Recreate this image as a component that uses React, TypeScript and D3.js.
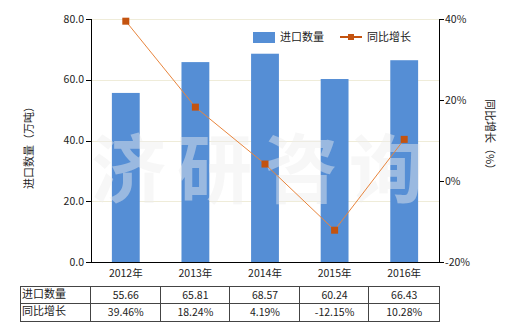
import React from "react";
import * as d3 from "d3";

const categories = ["2012年", "2013年", "2014年", "2015年", "2016年"];
const importQty = [55.66, 65.81, 68.57, 60.24, 66.43];
const yoyGrowth = [39.46, 18.24, 4.19, -12.15, 10.28];
const leftTicks = [0, 20, 40, 60, 80];
const rightTicks = [-20, 0, 20, 40];
const qtyLabels = ["55.66", "65.81", "68.57", "60.24", "66.43"];
const growthLabels = ["39.46%", "18.24%", "4.19%", "-12.15%", "10.28%"];
const seriesNames = ["进口数量", "同比增长"];
const leftTitle = "进口数量（万吨）";
const rightTitle = "同比增长（%）";
const watermark = "济研咨询";

const W = 520, H = 330;
const L = 91, R = 439, T = 19, B = 262;
const FONT = "'Noto Sans CJK SC', 'Liberation Sans', sans-serif";
const BLUE = "#558ed5";
const LINE = "#e8853d";
const MARK = "#c4530f";

export default function App() {
  const x = d3.scaleBand<string>().domain(categories).range([L, R]).paddingInner(0).paddingOuter(0);
  const yL = d3.scaleLinear().domain([0, 80]).range([B, T]);
  const yR = d3.scaleLinear().domain([-20, 40]).range([B, T]);
  const bw = x.bandwidth() * 0.4;
  const cx = (c: string) => (x(c) as number) + x.bandwidth() / 2;
  const line = d3.line<number>().x((_, i) => cx(categories[i])).y((d) => yR(d));
  const rowTop = 286, rowMid = 303.5, rowBot = 321;
  const tableLeft = 20.5;
  const colEdges = [tableLeft, ...categories.map((c) => x(c) as number), R];

  return (
    <svg width={W} height={H} style={{ position: "absolute", left: 0, top: 0, background: "#fff" }} fontFamily={FONT}>
      {/* gridlines */}
      {leftTicks.filter((t) => t > 0).map((t) => (
        <line key={t} x1={L} x2={R} y1={Math.round(yL(t)) + 0.5} y2={Math.round(yL(t)) + 0.5} stroke="#efecd9" strokeWidth={1} />
      ))}
      {/* bars */}
      {categories.map((c, i) => (
        <rect key={c} x={cx(c) - bw / 2} width={bw} y={yL(importQty[i])} height={B - yL(importQty[i])} fill={BLUE} />
      ))}
      {/* watermark */}
      <text x={91} y={197} fontSize={75} fontWeight="bold" fill="#eeeeee" opacity={0.45} letterSpacing={11}>{watermark}</text>
      {/* line */}
      <path d={line(yoyGrowth) || ""} fill="none" stroke={LINE} strokeWidth={1} />
      {yoyGrowth.map((v, i) => (
        <rect key={i} x={cx(categories[i]) - 3.5} y={yR(v) - 3.5} width={7} height={7} fill={MARK} />
      ))}
      {/* axes */}
      <line x1={L + 0.5} x2={L + 0.5} y1={T} y2={B} stroke="#000" />
      <line x1={R + 0.5} x2={R + 0.5} y1={T} y2={B} stroke="#000" />
      <line x1={L} x2={R + 1} y1={B + 0.5} y2={B + 0.5} stroke="#000" />
      {leftTicks.map((t) => (
        <g key={t}>
          <line x1={L - 5} x2={L} y1={Math.round(yL(t)) + 0.5} y2={Math.round(yL(t)) + 0.5} stroke="#000" />
          <text x={L - 7} y={yL(t)} dy="0.35em" textAnchor="end" fontSize={10.5} fill="#222">{t.toFixed(1)}</text>
        </g>
      ))}
      {rightTicks.map((t) => (
        <g key={t}>
          <line x1={R} x2={R + 5} y1={Math.round(yR(t)) + 0.5} y2={Math.round(yR(t)) + 0.5} stroke="#000" />
          <text x={R + 6} y={yR(t)} dy="0.35em" textAnchor="start" fontSize={10.5} fill="#222">{t + "%"}</text>
        </g>
      ))}
      {categories.map((c) => (
        <text key={c} x={cx(c)} y={273} dy="0.35em" textAnchor="middle" fontSize={10.5} fill="#222">{c}</text>
      ))}
      {/* axis titles */}
      <text transform="translate(29,145) rotate(-90)" textAnchor="middle" dy="0.35em" fontSize={11} fill="#222">{leftTitle}</text>
      <text transform="translate(490,137) rotate(90)" textAnchor="middle" dy="0.35em" fontSize={11} fill="#222">{rightTitle}</text>
      {/* legend */}
      <rect x={253} y={32} width={22} height={11} fill={BLUE} />
      <text x={280} y={37.5} dy="0.35em" fontSize={11} fill="#222">{seriesNames[0]}</text>
      <line x1={340} x2={362} y1={37} y2={37} stroke={MARK} strokeWidth={2} />
      <rect x={348} y={34} width={6} height={6} fill={MARK} />
      <text x={367} y={37.5} dy="0.35em" fontSize={11} fill="#222">{seriesNames[1]}</text>
      {/* table */}
      <g stroke="#444" strokeWidth={1} fill="none">
        <rect x={tableLeft} y={rowTop + 0.5} width={R - tableLeft + 0.5} height={rowBot - rowTop} />
        <line x1={tableLeft} x2={R + 0.5} y1={rowMid} y2={rowMid} />
        {colEdges.slice(1, -1).map((e, i) => (
          <line key={i} x1={Math.round(e) - 0.5} x2={Math.round(e) - 0.5} y1={rowTop} y2={rowBot} />
        ))}
      </g>
      <text x={22} y={294} dy="0.35em" fontSize={11} fill="#222">{seriesNames[0]}</text>
      <text x={22} y={311.5} dy="0.35em" fontSize={11} fill="#222">{seriesNames[1]}</text>
      {categories.map((c, i) => (
        <g key={c}>
          <text x={cx(c)} y={295} dy="0.35em" textAnchor="middle" fontSize={10.5} fill="#222">{qtyLabels[i]}</text>
          <text x={cx(c)} y={312.5} dy="0.35em" textAnchor="middle" fontSize={10.5} fill="#222">{growthLabels[i]}</text>
        </g>
      ))}
    </svg>
  );
}
